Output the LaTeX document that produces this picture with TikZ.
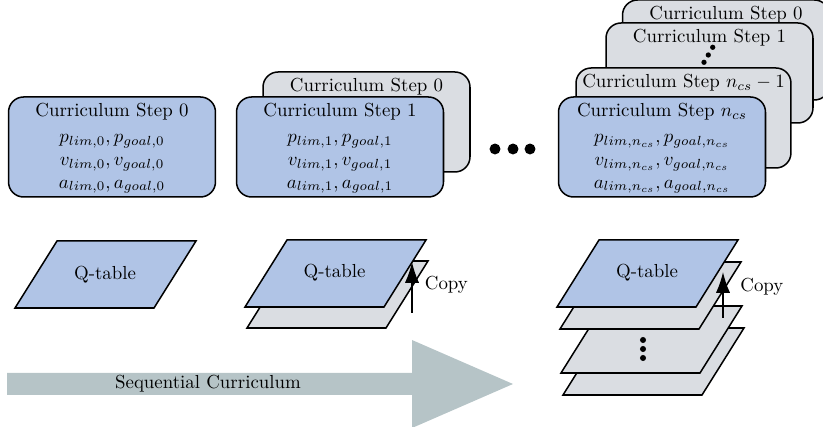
\documentclass[tikz,border=0pt]{standalone}
\usetikzlibrary{arrows.meta}
\definecolor{qblue}{RGB}{176,196,230}
\definecolor{qgray}{RGB}{218,221,226}
\definecolor{seqgray}{RGB}{182,196,199}
\newcommand\qplane[2]{%
  \draw[qedge, fill=#2] (#1) -- ++(139,0) -- ++(42,-67) -- ++(-139,0) -- cycle;}
\newcommand\topstrut{\rule{0pt}{10.4pt}}
\newcommand\botstrut{\rule[-4.6pt]{0pt}{4.6pt}}
\begin{document}
\begin{tikzpicture}[x=0.53pt, y=-0.53pt,
  cbox/.style={draw=black, line width=0.8pt, rounded corners=8pt,
    minimum width=109.7pt, minimum height=53pt, inner xsep=3.33pt, inner ysep=0pt,
    align=center, font=\fontsize{10pt}{12pt}\selectfont},
  cfront/.style={cbox, fill=qblue},
  cback/.style={cbox, fill=qgray, text height=10.4pt, text depth=42.6pt},
  qedge/.style={draw=black, line width=0.8pt, line join=miter},
  qtxt/.style={inner sep=0pt, font=\fontsize{10pt}{12pt}\selectfont},
  cp/.style={line width=0.8pt, -{Latex[length=11pt,width=7.5pt]}},
  bigdot/.style={fill=black}]
\clip (0,0) rectangle (823,427);
\useasboundingbox (0,0) rectangle (823,427);

% ---------- column 1
\node[cfront] (s0) at (112,147) {\topstrut Curriculum Step 0\\[1.8pt] $p_{lim,0},p_{goal,0}$\\ $v_{lim,0},v_{goal,0}$\\ $a_{lim,0},a_{goal,0}$\botstrut};

% ---------- column 2
\node[cback] (s1b) at (366.5,122) {Curriculum Step 0};
\node[cfront] (s1) at (340,147) {\topstrut Curriculum Step 1\\[1.8pt] $p_{lim,1},p_{goal,1}$\\ $v_{lim,1},v_{goal,1}$\\ $a_{lim,1},a_{goal,1}$\botstrut};

% ---------- middle dots
\fill[bigdot] (495,149) circle[radius=2.9pt];
\fill[bigdot] (513,149) circle[radius=2.9pt];
\fill[bigdot] (530,149) circle[radius=2.9pt];

% ---------- column 3
\node[cback] (n0) at (726,50) {Curriculum Step 0};
\node[cback] (n1) at (709.5,73) {Curriculum Step 1};
\fill[bigdot] (712.7,47.3) circle[radius=1.4pt];
\fill[bigdot] (708.3,55) circle[radius=1.4pt];
\fill[bigdot] (704,62.3) circle[radius=1.4pt];
\node[cback] (nm) at (683.5,118) {Curriculum Step $n_{cs}-1$};
\node[cfront] (nf) at (662,147) {\topstrut Curriculum Step $n_{cs}$\\[1.8pt] $p_{lim,n_{cs}},p_{goal,n_{cs}}$\\ $v_{lim,n_{cs}},v_{goal,n_{cs}}$\\ $a_{lim,n_{cs}},a_{goal,n_{cs}}$\botstrut};

% ---------- Q-tables
\coordinate (qa) at (15,308);
\qplane{qa}{qblue}
\node[qtxt] (qat) at (105,274.5) {Q-table};

\coordinate (qbg) at (247,328);
\qplane{qbg}{qgray}
\coordinate (qb) at (245,307);
\qplane{qb}{qblue}
\node[qtxt] (qbt) at (334.5,273) {Q-table};
\coordinate (cpbs) at (412,313);
\coordinate (cpbe) at (412,262);
\draw[cp] (cpbs) -- (cpbe);
\node[qtxt, anchor=west] (cpbt) at (424.5,285) {Copy};

\coordinate (qc3) at (563,395);
\qplane{qc3}{qgray}
\coordinate (qc2) at (561,373);
\qplane{qc2}{qgray}
\fill[bigdot] (643,340) circle[radius=1.6pt];
\fill[bigdot] (643,349) circle[radius=1.6pt];
\fill[bigdot] (643,358) circle[radius=1.6pt];
\coordinate (qc1) at (560,329);
\qplane{qc1}{qgray}
\coordinate (qc) at (557,307);
\qplane{qc}{qblue}
\node[qtxt] (qct) at (647,273) {Q-table};
\coordinate (cpcs) at (723,318);
\coordinate (cpce) at (723,272);
\draw[cp] (cpcs) -- (cpce);
\node[qtxt, anchor=west] (cpct) at (740,287) {Copy};

% ---------- sequential curriculum arrow
\fill[seqgray] (7,373) -- (412,373) -- (412,340) -- (513,384) -- (412,428) -- (412,395) -- (7,395) -- cycle;
\node[qtxt] (seq) at (208,384) {Sequential Curriculum};
\end{tikzpicture}
\end{document}
